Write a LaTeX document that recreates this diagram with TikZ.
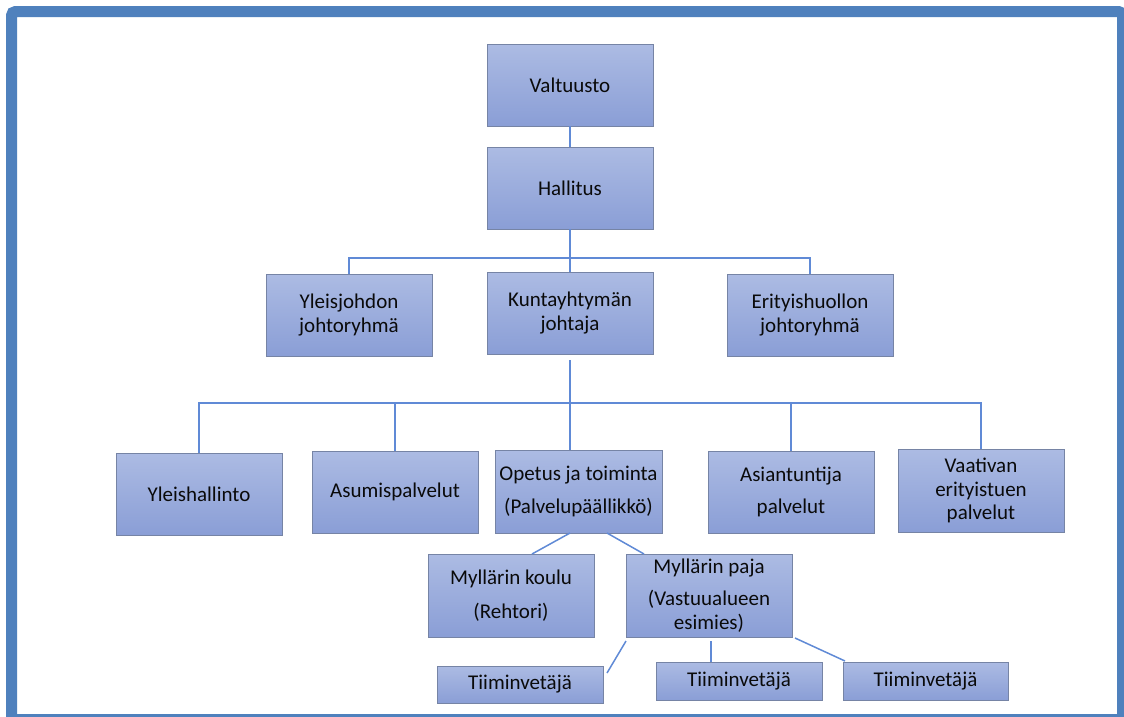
\documentclass[tikz,border=0pt]{standalone}
\usepackage{fontspec}
\setmainfont{Carlito}
\definecolor{frameblue}{RGB}{79,129,189}
\definecolor{linkblue}{RGB}{96,138,214}
\definecolor{boxtop}{RGB}{172,187,227}
\definecolor{boxbot}{RGB}{138,158,214}
\definecolor{boxedge}{RGB}{118,132,165}
\definecolor{txt}{RGB}{10,10,10}
\begin{document}
\begin{tikzpicture}[x=1pt,y=-1pt,
  orgbox/.style={draw=boxedge, line width=1pt, top color=boxtop, bottom color=boxbot,
    minimum width=166pt, minimum height=82pt, inner sep=0pt, outer sep=0pt,
    align=center, text=txt, font=\fontsize{21}{23.5}\selectfont},
  link/.style={draw=linkblue, line width=1.5pt}]
\useasboundingbox (0,0) rectangle (1124,716);
\clip (0,0) rectangle (1124,716);
\fill[white] (0,0) rectangle (1124,716);
\draw[frameblue, line width=11pt, rounded corners=4pt] (11.5,11.5) rectangle (1122.5,719.5);

% level 1-2
\node[orgbox] (V) at (570,85) {Valtuusto};
\node[orgbox] (H) at (570,188) {Hallitus};
% level 3
\node[orgbox] (YJ) at (349,315) {Yleisjohdon\\johtoryhmä};
\node[orgbox] (K) at (570,313) {Kuntayhtymän\\johtaja};
\node[orgbox] (E) at (810,315) {Erityishuollon\\johtoryhmä};
% level 4
\node[orgbox] (YH) at (199,494) {Yleishallinto};
\node[orgbox] (A) at (395,492) {Asumispalvelut};
\node[orgbox, minimum width=167pt, minimum height=83pt] (O) at (578.5,491.5) {Opetus ja toiminta\\[9pt](Palvelupäällikkö)};
\node[orgbox] (AS) at (791,492) {Asiantuntija\\[9pt]palvelut};
\node[orgbox, minimum height=83pt] (VA) at (981,490.5) {Vaativan\\erityistuen\\palvelut};
% level 5
\node[orgbox, minimum height=83pt] (MK) at (511,595.5) {Myllärin koulu\\[10pt](Rehtori)};
\node[orgbox, minimum height=83pt] (MP) at (709,595.5) {Myllärin paja\\[9pt](Vastuualueen\\esimies)};
% level 6
\node[orgbox, minimum height=37pt] (T1) at (520,684.5) {Tiiminvetäjä};
\node[orgbox, minimum height=38pt] (T2) at (739,681) {Tiiminvetäjä};
\node[orgbox, minimum width=165pt, minimum height=38pt] (T3) at (925.5,681) {Tiiminvetäjä};

% connectors
\coordinate (b1) at (570,258);
\coordinate (b2) at (570,403);
\draw[link] (V.south) -- (H.north);
\draw[link] (H.south) -- (K.north);
\draw[link] (YJ.north) |- (b1) -| (E.north);
\draw[link, shorten <=6pt] (K.south) -- (K.south |- O.north);
\draw[link] (YH.north) |- (b2) -| (VA.north);
\draw[link] (b2) -| (A.north);
\draw[link] (b2) -| (AS.north);
\draw[link] ([xshift=-8.5pt]O.south) -- ([xshift=21pt]MK.north);
\draw[link] ([xshift=28.5pt]O.south) -- ([xshift=-65pt]MP.north);
\draw[link] ([yshift=-4pt]MP.south west) -- ([xshift=4pt,yshift=-7pt]T1.north east);
\draw[link] ([xshift=2pt,yshift=-4pt]MP.south) -- ([xshift=-28pt]T2.north);
\draw[link] ([xshift=3pt,yshift=-1pt]MP.south east) -- ([xshift=2pt,yshift=1pt]T3.north west);
\end{tikzpicture}
\end{document}
